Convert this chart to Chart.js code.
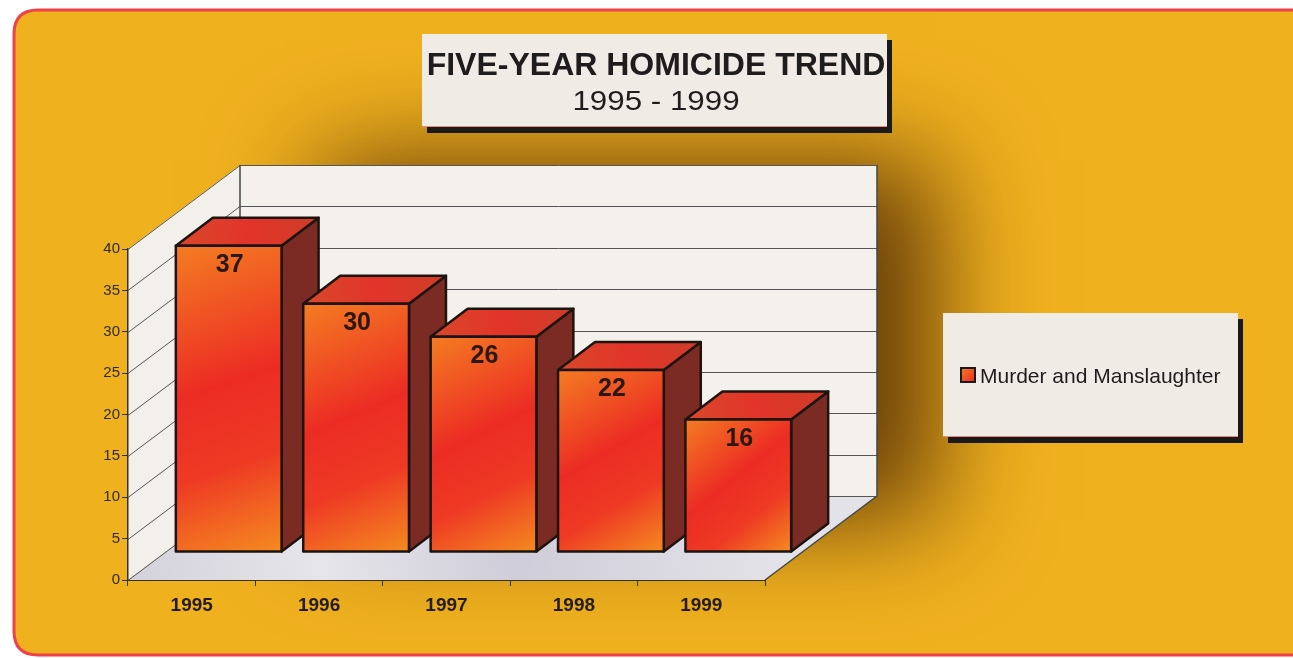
<!DOCTYPE html>
<html>
<head>
<meta charset="utf-8">
<title>Five-Year Homicide Trend</title>
<script src="https://cdn.jsdelivr.net/npm/chart.js@4.4.1/dist/chart.umd.min.js"></script>
<style>
  html, body { margin: 0; padding: 0; background: #fff; }
  canvas { display: block; }
</style>
</head>
<body>
<canvas id="homicide-chart" width="1293" height="658"></canvas>
<script>
// datos del grafico
const years = ['1995', '1996', '1997', '1998', '1999'];
const homicides = [37, 30, 26, 22, 16];
const seriesName = 'Murder and Manslaughter';
const titleText = 'FIVE-YEAR HOMICIDE TREND';
const subtitleText = '1995 - 1999';
const yTicks = [0, 5, 10, 15, 20, 25, 30, 35, 40];

const FONT = '"Liberation Sans", Arial, Helvetica, sans-serif';

// profundidad de la caja 3D (pared de fondo) y de las barras
const WALL = { dx: 112, dy: -84 };
const BAR = { dx: 37, dy: -28 };

function roundRect(ctx, x, y, w, h, r) {
  ctx.beginPath();
  ctx.moveTo(x + r, y);
  ctx.lineTo(x + w - r, y);
  ctx.quadraticCurveTo(x + w, y, x + w, y + r);
  ctx.lineTo(x + w, y + h - r);
  ctx.quadraticCurveTo(x + w, y + h, x + w - r, y + h);
  ctx.lineTo(x + r, y + h);
  ctx.quadraticCurveTo(x, y + h, x, y + h - r);
  ctx.lineTo(x, y + r);
  ctx.quadraticCurveTo(x, y, x + r, y);
  ctx.closePath();
}

function poly(ctx, pts) {
  ctx.beginPath();
  ctx.moveTo(pts[0][0], pts[0][1]);
  for (let i = 1; i < pts.length; i++) ctx.lineTo(pts[i][0], pts[i][1]);
  ctx.closePath();
}

// caja con sombra negra (titulo y leyenda)
function shadowBox(ctx, x, y, w, h) {
  ctx.fillStyle = '#1c1a18';
  ctx.fillRect(x + 5, y + 6, w, h);
  ctx.fillStyle = '#f1ebe5';
  ctx.fillRect(x, y, w, h);
  ctx.strokeStyle = 'rgba(230,70,70,0.6)';
  ctx.lineWidth = 1;
  ctx.beginPath();
  ctx.moveTo(x, y + h - 0.5);
  ctx.lineTo(x + w, y + h - 0.5);
  ctx.stroke();
}

const backdrop = {
  id: 'backdrop',
  beforeDraw(chart) {
    const ctx = chart.ctx;
    const { left, right, top, bottom } = chart.chartArea;
    const y = chart.scales.y;
    const W = WALL;
    ctx.save();

    // tarjeta amarilla
    roundRect(ctx, 14, 10, 1300, 645, 24);
    ctx.fillStyle = '#f0b11f';
    ctx.fill();

    // sombra difusa a la derecha de la pared de fondo
    ctx.save();
    roundRect(ctx, 14, 10, 1300, 645, 24);
    ctx.clip();
    ctx.shadowColor = 'rgba(95,55,8,0.95)';
    ctx.shadowBlur = 100;
    ctx.shadowOffsetX = 2000;
    ctx.fillStyle = '#000';
    ctx.fillRect(left + W.dx + 80 - 2000, top + W.dy - 5, right - left - 20, bottom - top + 30);
    ctx.restore();

    roundRect(ctx, 14, 10, 1300, 645, 24);
    ctx.strokeStyle = '#ee4149';
    ctx.lineWidth = 3;
    ctx.stroke();

    // titulo
    shadowBox(ctx, 422, 34, 465, 93);
    ctx.fillStyle = '#1e1c1c';
    ctx.textAlign = 'center';
    ctx.textBaseline = 'alphabetic';
    ctx.font = 'bold 32px ' + FONT;
    ctx.fillText(titleText, 656, 75);
    ctx.save();
    ctx.translate(656, 110);
    ctx.scale(1.16, 1);
    ctx.font = '27px ' + FONT;
    ctx.fillText(subtitleText, 0, 0);
    ctx.restore();

    // leyenda
    shadowBox(ctx, 943, 313, 295, 124);
    let g = ctx.createLinearGradient(961, 368, 975, 382);
    g.addColorStop(0, '#f47a20');
    g.addColorStop(1, '#ea2d24');
    ctx.fillStyle = g;
    ctx.fillRect(961, 368, 14, 14);
    ctx.strokeStyle = '#1a1a1a';
    ctx.lineWidth = 2;
    ctx.strokeRect(961, 368, 14, 14);
    ctx.fillStyle = '#1e1c1c';
    ctx.textAlign = 'left';
    ctx.font = '21px ' + FONT;
    ctx.fillText(chart.data.datasets[0].label, 980, 383);

    // paredes y suelo de la caja 3D
    ctx.lineJoin = 'round';
    // pared izquierda
    poly(ctx, [[left, bottom], [left, top], [left + W.dx, top + W.dy], [left + W.dx, bottom + W.dy]]);
    ctx.fillStyle = '#f3efea';
    ctx.fill();
    // pared de fondo
    poly(ctx, [[left + W.dx, top + W.dy], [right + W.dx, top + W.dy], [right + W.dx, bottom + W.dy], [left + W.dx, bottom + W.dy]]);
    ctx.fillStyle = '#f4f1ed';
    ctx.fill();
    // suelo
    poly(ctx, [[left, bottom], [right, bottom], [right + W.dx, bottom + W.dy], [left + W.dx, bottom + W.dy]]);
    g = ctx.createLinearGradient(left, bottom, right, bottom + W.dy);
    g.addColorStop(0, '#d3d2dc');
    g.addColorStop(0.3, '#e6e5ea');
    g.addColorStop(0.6, '#cfcdd9');
    g.addColorStop(1, '#e3e2e8');
    ctx.fillStyle = g;
    ctx.fill();

    // lineas de la rejilla en las paredes
    ctx.strokeStyle = '#555';
    ctx.lineWidth = 1;
    yTicks.forEach(v => {
      const py = Math.round(y.getPixelForValue(v)) + 0.5;
      ctx.beginPath();
      ctx.moveTo(left, py);
      ctx.lineTo(left + W.dx, py + W.dy);
      ctx.lineTo(right + W.dx, py + W.dy);
      ctx.stroke();
    });
    // bordes de la caja
    ctx.strokeStyle = '#3f4a44';
    ctx.lineWidth = 1.5;
    ctx.beginPath();
    ctx.moveTo(left + W.dx, bottom + W.dy);
    ctx.lineTo(left + W.dx, top + W.dy);
    ctx.moveTo(right + W.dx, top + W.dy);
    ctx.lineTo(right + W.dx, bottom + W.dy);
    ctx.lineTo(right, bottom);
    ctx.stroke();
    ctx.restore();
  },
  beforeDatasetDraw() {
    // las barras se dibujan a mano en 3D
    return false;
  },
  afterDatasetsDraw(chart) {
    const ctx = chart.ctx;
    const meta = chart.getDatasetMeta(0);
    const B = BAR;
    ctx.save();
    ctx.translate(B.dx, B.dy);
    ctx.lineJoin = 'round';
    ctx.lineWidth = 2.5;
    ctx.strokeStyle = '#1d1412';
    meta.data.forEach((bar, i) => {
      const { x, y, base, width } = bar.getProps(['x', 'y', 'base', 'width'], true);
      const l = x - width / 2, r = x + width / 2;
      // cara lateral
      poly(ctx, [[r, y], [r + B.dx, y + B.dy], [r + B.dx, base + B.dy], [r, base]]);
      ctx.fillStyle = '#7c2b24';
      ctx.fill();
      ctx.stroke();
      // cara superior
      poly(ctx, [[l, y], [l + B.dx, y + B.dy], [r + B.dx, y + B.dy], [r, y]]);
      let g = ctx.createLinearGradient(l, y, r + B.dx, y + B.dy);
      g.addColorStop(0, '#d9482a');
      g.addColorStop(0.5, '#e2342a');
      g.addColorStop(1, '#cf3d28');
      ctx.fillStyle = g;
      ctx.fill();
      ctx.stroke();
      // cara frontal
      g = ctx.createLinearGradient(l, y, r, base);
      g.addColorStop(0, '#f47c22');
      g.addColorStop(0.45, '#ec2c24');
      g.addColorStop(0.7, '#ee3a24');
      g.addColorStop(1, '#f58a20');
      poly(ctx, [[l, y], [r, y], [r, base], [l, base]]);
      ctx.fillStyle = g;
      ctx.fill();
      ctx.stroke();
      // etiqueta del valor
      ctx.fillStyle = '#2a1812';
      ctx.font = 'bold 25px ' + FONT;
      ctx.textAlign = 'center';
      ctx.textBaseline = 'alphabetic';
      ctx.fillText(String(chart.data.datasets[0].data[i]), x + 1, y + 26);
    });
    ctx.restore();
  }
};

new Chart(document.getElementById('homicide-chart'), {
  type: 'bar',
  data: {
    labels: years,
    datasets: [{
      label: seriesName,
      data: homicides,
      backgroundColor: '#ec2c24',
      barPercentage: 0.83,
      categoryPercentage: 1
    }]
  },
  options: {
    responsive: false,
    animation: false,
    layout: { padding: { left: 68, right: 528, top: 249, bottom: 18 } },
    plugins: {
      legend: { display: false },
      title: { display: false },
      tooltip: { enabled: false }
    },
    scales: {
      x: {
        afterFit: s => { s.height = 60; },
        grid: { offset: true, drawOnChartArea: false, tickLength: 6, color: '#333', lineWidth: 1 },
        border: { display: true, color: '#333', width: 1 },
        ticks: { color: '#231c18', padding: 8, font: { family: FONT, size: 19, weight: 'bold' } }
      },
      y: {
        min: 0,
        max: 40,
        afterFit: s => { s.width = 60; },
        afterBuildTicks: s => { s.ticks = yTicks.map(v => ({ value: v })); },
        grid: { drawOnChartArea: false, tickLength: 6, color: '#333', lineWidth: 1 },
        border: { display: true, color: '#333', width: 1.5 },
        ticks: { color: '#2e2a26', padding: 2, font: { family: FONT, size: 15 } }
      }
    }
  },
  plugins: [backdrop]
});
</script>
</body>
</html>
